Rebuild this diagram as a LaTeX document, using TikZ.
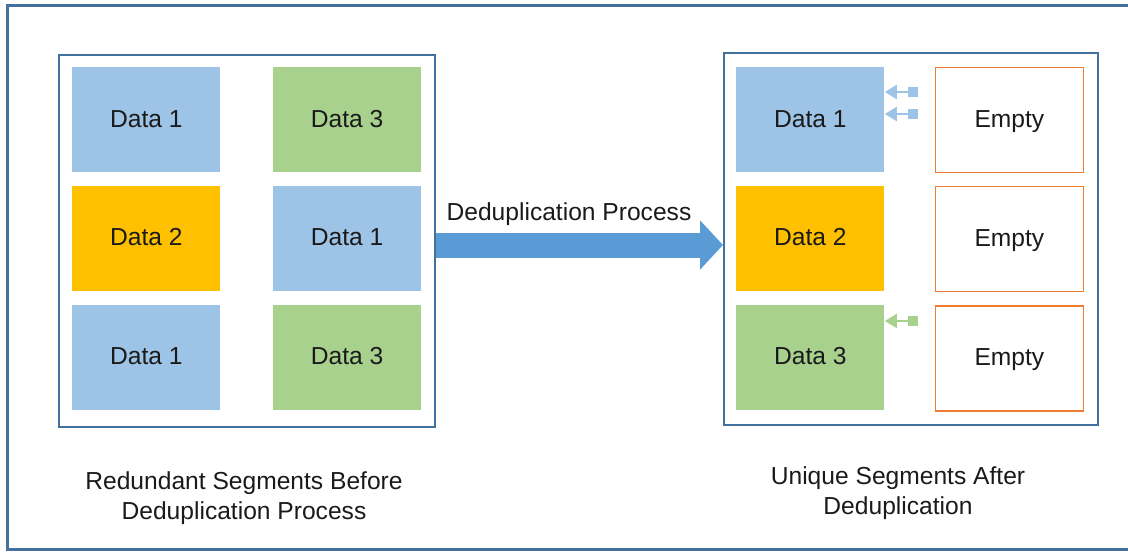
\documentclass[tikz,border=0pt]{standalone}
\usepackage{fontspec}
\setmainfont{Liberation Sans}
\usetikzlibrary{arrows.meta,positioning}
\definecolor{segblue}{HTML}{9DC3E6}
\definecolor{seggreen}{HTML}{A9D18E}
\definecolor{seggold}{HTML}{FFC000}
\definecolor{emptyedge}{HTML}{ED7D31}
\definecolor{frameblue}{HTML}{41719C}
\definecolor{flowblue}{HTML}{5B9BD5}
\definecolor{inktext}{HTML}{1A1A1A}

\begin{document}
\begin{tikzpicture}[x=0.5pt,y=-0.5pt,font=\fontsize{12.3}{15}\selectfont,text=inktext,
 seg/.style={minimum width=74pt,minimum height=52.5pt,inner sep=0pt,anchor=north west,
   text height=0.72em,text depth=0pt},
 empty/.style={seg,draw=emptyedge,line width=0.6pt,fill=white},
 panel/.style={draw=frameblue,line width=1pt,inner sep=0pt},
 marker/.style={fill=segblue,minimum size=4.6pt,inner sep=0pt},
 ptr/.style={-{Triangle[length=6pt,width=7pt]},line width=1pt}]
\useasboundingbox (0,0) rectangle (1128,551);
\draw[frameblue,line width=1.5pt] (1128,5.5) -- (7.5,5.5) -- (7.5,549.5) -- (1128,549.5);

% before deduplication
\node[panel,minimum width=188pt,minimum height=186pt] (lp) at (247,241) {};
\node[seg,fill=segblue] (l11) at (72,67) {Data 1};
\node[seg,fill=seggold,below=6.5pt of l11.south west,anchor=north west] (l21) {Data 2};
\node[seg,fill=segblue,below=6.5pt of l21.south west,anchor=north west] (l31) {Data 1};
\node[seg,fill=seggreen,right=26pt of l11.north east,anchor=north west] (l12) {Data 3};
\node[seg,fill=segblue,below=6.5pt of l12.south west,anchor=north west] (l22) {Data 1};
\node[seg,fill=seggreen,below=6.5pt of l22.south west,anchor=north west] (l32) {Data 3};
\node[align=center] (lcap) at (244,498) {Redundant Segments Before\\Deduplication Process};

% after deduplication
\node[panel,minimum width=187pt,minimum height=186pt] (rp) at (911,239) {};
\node[seg,fill=segblue] (r11) at (736,67) {Data 1};
\node[seg,fill=seggold,below=6.5pt of r11.south west,anchor=north west] (r21) {Data 2};
\node[seg,fill=seggreen,below=6.5pt of r21.south west,anchor=north west] (r31) {Data 3};
\node[empty,right=25pt of r11.north east,anchor=north west] (r12) {Empty};
\node[empty,below=6.5pt of r12.south west,anchor=north west] (r22) {Empty};
\node[empty,below=6.5pt of r22.south west,anchor=north west] (r32) {Empty};
\node[align=center] (rcap) at (898,493) {Unique Segments After\\Deduplication};

% freed slots point back to kept data
\node[marker] (m1) at (913,92) {};
\node[marker] (m2) at (913,114) {};
\node[marker,fill=seggreen] (m3) at (913,321) {};
\draw[ptr,segblue] (m1.west) -- (m1.west -| r11.east);
\draw[ptr,segblue] (m2.west) -- (m2.west -| r11.east);
\draw[ptr,seggreen] (m3.west) -- (m3.west -| r31.east);

% process arrow
\coordinate (flowy) at (0,245);
\draw[flowblue,line width=12.5pt,-{Triangle[length=11.5pt,width=24pt]}]
  (lp.east |- flowy) -- (rp.west |- flowy);
\node (flowlbl) at (569,214) {Deduplication Process};
\end{tikzpicture}
\end{document}
